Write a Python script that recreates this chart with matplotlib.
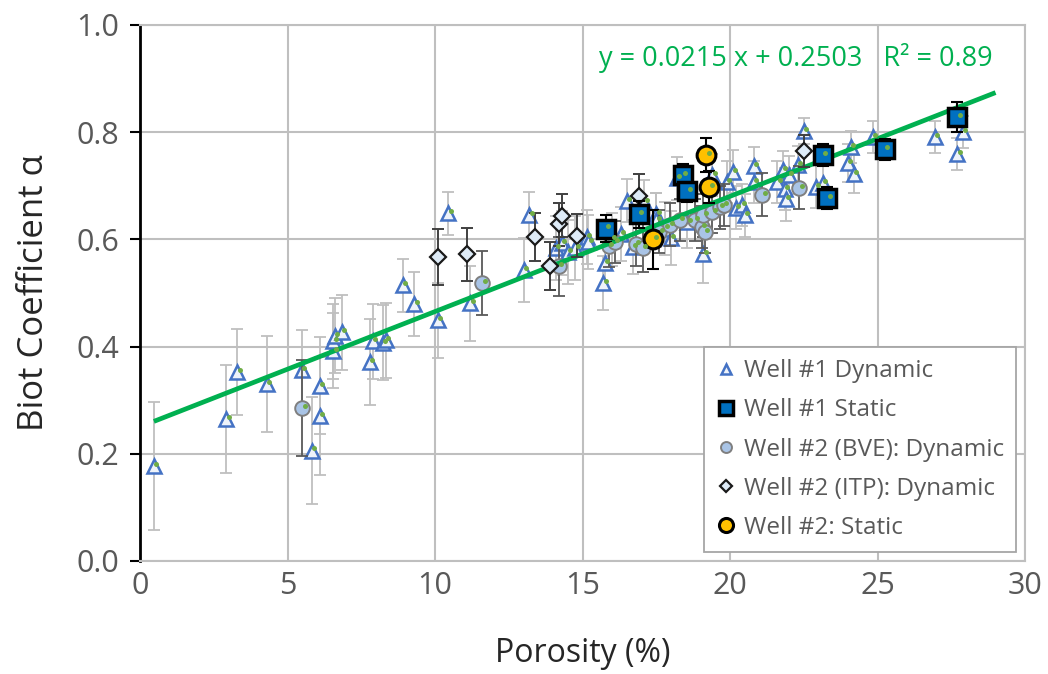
import numpy as np
import matplotlib
matplotlib.use('Agg')
from matplotlib import pyplot as plt

plt.rcParams['font.family'] = ['Open Sans', 'DejaVu Sans']

# Well #1 dynamic (x, y, error)
w1d_x = [0.47, 2.92, 3.3, 4.3, 5.49, 5.83, 6.1, 6.1, 6.55, 6.55, 6.6, 6.85, 7.8, 7.9, 8.24, 8.34,
         8.9, 9.3, 10.1, 10.45, 11.2, 13.0, 13.2, 14.1, 14.3, 14.5, 14.75, 15.15, 15.2, 15.7, 15.75,
         16.0, 16.3, 16.5, 16.7, 17.1, 17.5, 17.5, 17.8, 18.0, 18.2, 18.55, 19.1, 19.4, 19.9, 20.1,
         20.2, 20.4, 20.5, 20.8, 20.8, 21.6, 21.8, 21.85, 21.9, 22.0, 22.3, 22.5, 22.9, 23.15,
         24.0, 24.1, 24.2, 24.85, 26.95, 27.7, 27.9]
w1d_y = [0.177, 0.265, 0.352, 0.330, 0.356, 0.206, 0.327, 0.270, 0.392, 0.410, 0.420, 0.427, 0.371,
         0.410, 0.407, 0.412, 0.514, 0.479, 0.449, 0.649, 0.481, 0.543, 0.645, 0.584, 0.593, 0.577,
         0.584, 0.604, 0.595, 0.519, 0.556, 0.600, 0.610, 0.672, 0.586, 0.670, 0.647, 0.636, 0.620,
         0.603, 0.714, 0.633, 0.573, 0.720, 0.707, 0.726, 0.659, 0.664, 0.645, 0.737, 0.707, 0.707,
         0.730, 0.694, 0.675, 0.720, 0.739, 0.802, 0.698, 0.705, 0.742, 0.772, 0.722, 0.791, 0.791,
         0.759, 0.800]
w1d_e = [0.12, 0.10, 0.08, 0.09, 0.075, 0.10, 0.09, 0.11, 0.07, 0.07, 0.07, 0.07, 0.08, 0.07, 0.07,
         0.07, 0.05, 0.06, 0.07, 0.04, 0.07, 0.06, 0.043, 0.06, 0.06, 0.06, 0.06, 0.05, 0.05, 0.05,
         0.05, 0.05, 0.05, 0.04, 0.05, 0.04, 0.04, 0.05, 0.05, 0.05, 0.04, 0.05, 0.055, 0.04, 0.04,
         0.04, 0.04, 0.04, 0.04, 0.035, 0.04, 0.04, 0.035, 0.04, 0.04, 0.035, 0.035, 0.025, 0.04,
         0.04, 0.035, 0.03, 0.035, 0.03, 0.03, 0.03, 0.03]

# Well #1 static
w1s_x = [15.8, 16.9, 18.4, 18.55, 23.15, 23.3, 25.25, 27.7]
w1s_y = [0.620, 0.647, 0.720, 0.690, 0.757, 0.677, 0.768, 0.828]
w1s_e = [0.025, 0.025, 0.02, 0.02, 0.02, 0.02, 0.02, 0.028]

# Well #2 (BVE) dynamic
bve_x = [5.5, 11.6, 14.2, 15.9, 16.1, 16.8, 17.05, 17.6, 17.95, 18.3, 18.8, 19.05, 19.15, 19.1,
         19.4, 19.65, 19.8, 21.1, 22.35]
bve_y = [0.285, 0.518, 0.550, 0.588, 0.595, 0.591, 0.584, 0.614, 0.627, 0.636, 0.636, 0.623, 0.614,
         0.645, 0.651, 0.660, 0.664, 0.683, 0.696]
bve_e = [0.09, 0.06, 0.055, 0.04, 0.04, 0.04, 0.045, 0.04, 0.04, 0.04, 0.04, 0.04, 0.04, 0.04,
         0.04, 0.04, 0.04, 0.04, 0.04]

# Well #2 (ITP) dynamic
itp_x = [10.1, 11.1, 13.4, 13.9, 14.2, 14.3, 14.8, 16.9, 22.5]
itp_y = [0.567, 0.572, 0.604, 0.550, 0.628, 0.644, 0.607, 0.681, 0.765]
itp_e = [0.052, 0.05, 0.045, 0.045, 0.04, 0.04, 0.04, 0.04, 0.03]

# Well #2 static
w2s_x = [17.4, 19.2, 19.3]
w2s_y = [0.600, 0.758, 0.698]
w2s_e = [0.055, 0.032, 0.03]

slope, intercept, r2 = 0.0215, 0.2503, 0.89
fit_x = [0.47, 29.0]

fig = plt.figure(figsize=(10.48, 6.74), dpi=100)
ax = fig.add_axes([0.1336, 0.1677, 0.8445, 0.7953])

grid_c = '#BFBFBF'
cap = 4.5

ax.errorbar(w1d_x, w1d_y, yerr=w1d_e, fmt='none', ecolor='#BFBFBF', elinewidth=1.3,
            capsize=cap, capthick=1.3, zorder=2)
ax.plot(w1d_x, w1d_y, ls='none', marker='^', ms=9.5, mfc='#EEF3FA', mec='#4472C4', mew=1.8,
        zorder=3, label='Well #1 Dynamic')

ax.errorbar(bve_x, bve_y, yerr=bve_e, fmt='none', ecolor='#595959', elinewidth=1.3,
            capsize=cap, capthick=1.3, zorder=4)
ax.plot(bve_x, bve_y, ls='none', marker='o', ms=10.5, mfc='#A9C4E6', mec='#7F7F7F', mew=1.4,
        zorder=5, label='Well #2 (BVE): Dynamic')

fx = np.array(fit_x)
ax.plot(fx, slope * fx + intercept, color='#00B050', lw=3.4, solid_capstyle='butt', zorder=6)

ax.errorbar(itp_x, itp_y, yerr=itp_e, fmt='none', ecolor='#404040', elinewidth=1.4,
            capsize=cap, capthick=1.4, zorder=7)
ax.plot(itp_x, itp_y, ls='none', marker='D', ms=8.5, mfc='#DEEBF7', mec='#1A1A1A', mew=1.6,
        zorder=8, label='Well #2 (ITP): Dynamic')

ax.errorbar(w1s_x, w1s_y, yerr=w1s_e, fmt='none', ecolor='black', elinewidth=1.5,
            capsize=cap, capthick=1.5, zorder=9)
ax.plot(w1s_x, w1s_y, ls='none', marker='s', ms=13, mfc='#0070C0', mec='black', mew=2.5,
        zorder=10, label='Well #1 Static')

ax.errorbar(w2s_x, w2s_y, yerr=w2s_e, fmt='none', ecolor='black', elinewidth=1.5,
            capsize=cap, capthick=1.5, zorder=11)
ax.plot(w2s_x, w2s_y, ls='none', marker='o', ms=13.5, mfc='#FFC000', mec='black', mew=2.2,
        zorder=12, label='Well #2: Static')

# small green markers of the fitted series
gx = w1d_x + w1s_x + bve_x + w2s_x
gy = w1d_y + w1s_y + bve_y + w2s_y
ax.plot(np.array(gx) + 0.08, np.array(gy) + 0.004, ls='none', marker='o', ms=3.6,
        mfc='#70AD47', mec='none', zorder=13)

ax.text(15.55, 0.938, f'y = {slope:.4f} x + {intercept:.4f}   R\u00b2 = {r2:.2f}',
        color='#00B050', fontsize=19.5, ha='left', va='center', zorder=14)

ax.set_xlim(0, 30)
ax.set_ylim(0, 1.0)
ax.set_xticks(np.arange(0, 31, 5))
ax.set_yticks(np.arange(0, 1.01, 0.2))
ax.set_yticklabels([f'{v:.1f}' for v in np.arange(0, 1.01, 0.2)])
ax.grid(True, color=grid_c, lw=1.5, zorder=0)
ax.set_axisbelow(True)
for s in ['top', 'right', 'bottom']:
    ax.spines[s].set_color(grid_c)
    ax.spines[s].set_linewidth(1.5)
ax.spines['left'].set_color('black')
ax.spines['left'].set_linewidth(2)
ax.tick_params(axis='y', length=7, width=1.5, color='black', labelsize=22,
               labelcolor='#595959', pad=8)
ax.tick_params(axis='x', length=0, labelsize=22, labelcolor='#595959', pad=7)

ax.set_xlabel('Porosity (%)', fontsize=23, color='#262626', labelpad=26)
ax.set_ylabel('Biot Coefficient \u03b1', fontsize=25, color='#262626', labelpad=18)

h, l = ax.get_legend_handles_labels()
order = ['Well #1 Dynamic', 'Well #1 Static', 'Well #2 (BVE): Dynamic',
         'Well #2 (ITP): Dynamic', 'Well #2: Static']
hd = dict(zip(l, h))
leg = ax.legend([hd[k] for k in order], order, loc='lower right',
                bbox_to_anchor=(0.99, 0.017), borderaxespad=0, fontsize=17.5,
                labelcolor='#595959', frameon=True, fancybox=False, edgecolor='#A6A6A6',
                framealpha=1, handlelength=0.8, handletextpad=0.35, labelspacing=0.62,
                borderpad=0.5, markerscale=0.75)
leg.get_frame().set_linewidth(1.3)
leg.set_zorder(20)

fig.savefig('out.png', dpi=100)
